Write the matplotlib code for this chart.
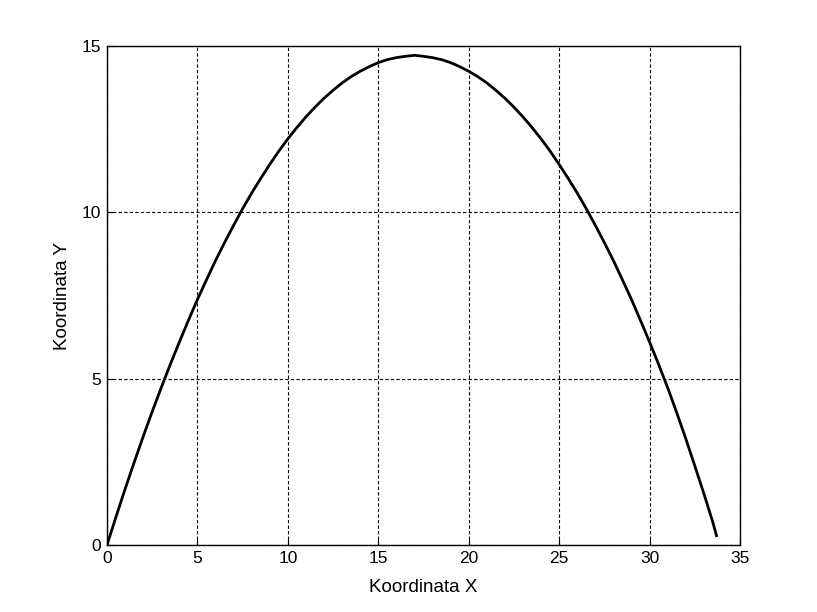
import matplotlib
matplotlib.use("Agg")
import matplotlib.pyplot as plt

plt.rcParams['font.family'] = ['Liberation Sans', 'DejaVu Sans']

# trajectory points
x_coord = [0, 0.5, 1, 1.5, 2, 2.5, 3, 3.5, 4, 4.5, 5, 5.5, 6, 6.5, 7, 7.5,
           8, 8.5, 9, 9.5, 10, 10.5, 11, 11.5, 12, 12.5, 13, 13.5, 14, 14.5,
           15, 15.5, 16, 16.5, 17, 17.5, 18, 18.5, 19, 19.5, 20, 20.5, 21,
           21.5, 22, 22.5, 23, 23.5, 24, 24.5, 25, 25.5, 26, 26.5, 27, 27.5,
           28, 28.5, 29, 29.5, 30, 30.5, 31, 31.5, 32, 32.5, 33, 33.5, 33.7]
y_coord = [0, 0.85, 1.68, 2.48, 3.26, 4.01, 4.73, 5.43, 6.10, 6.75, 7.38,
           7.97, 8.55, 9.09, 9.61, 10.11, 10.58, 11.02, 11.44, 11.84, 12.21,
           12.55, 12.87, 13.16, 13.43, 13.67, 13.89, 14.08, 14.24, 14.38,
           14.50, 14.59, 14.65, 14.69, 14.72, 14.69, 14.65, 14.59, 14.50,
           14.38, 14.24, 14.08, 13.89, 13.67, 13.43, 13.16, 12.87, 12.55,
           12.21, 11.84, 11.44, 11.02, 10.58, 10.11, 9.61, 9.09, 8.55, 7.97,
           7.38, 6.75, 6.10, 5.43, 4.73, 3.98, 3.20, 2.38, 1.55, 0.68, 0.28]

fig = plt.figure(figsize=(8.17, 6.12), dpi=100)
ax = fig.add_axes([107/817, 1 - 545/612, 633/817, 499/612])

ax.plot(x_coord, y_coord, color='black', linewidth=2)

ax.set_xlim(0, 35)
ax.set_ylim(0, 15)
ax.set_xticks(range(0, 36, 5))
ax.set_yticks([0, 5, 10, 15])
ax.grid(True, color='black', linestyle=(0, (3, 2)), linewidth=0.8)
ax.tick_params(direction='in', length=4, labelsize=12.5, pad=4)
for s in ax.spines.values():
    s.set_linewidth(1.0)

ax.set_xlabel('Koordinata X', fontsize=13.5, labelpad=10)
ax.set_ylabel('Koordinata Y', fontsize=13.5, labelpad=8)

fig.savefig('out.png', dpi=100)
